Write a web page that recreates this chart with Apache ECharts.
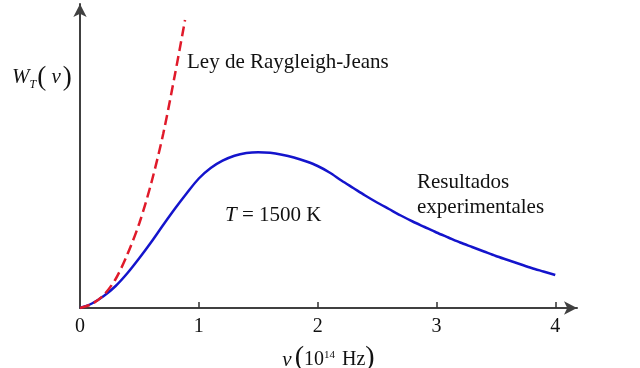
<!DOCTYPE html>
<html><head><meta charset="utf-8">
<script src="https://cdn.jsdelivr.net/npm/echarts@6/dist/echarts.min.js"></script>
<style>html,body{margin:0;padding:0;background:#fff}#c{width:640px;height:368px}</style>
</head><body><div id="c"></div>
<script>
// Frequency ν in 10^14 Hz, W_T(ν) in arbitrary units
var xTicks = [0, 1, 2, 3, 4];
var experimental = [
  [0,0],[0.1,4.5],[0.2,12],[0.3,22],[0.4,35],[0.5,50],[0.6,66],[0.7,83],[0.8,99.5],
  [0.9,115],[1.0,129.5],[1.1,140],[1.2,147.3],[1.3,152.3],[1.4,155],[1.5,155.8],[1.6,155.2],
  [1.7,153.3],[1.8,150.5],[1.9,146.7],[2.0,142],[2.1,135.5],[2.2,127.5],[2.3,120],[2.4,112.5],
  [2.5,105.5],[2.6,99],[2.7,92.5],[2.8,86.5],[2.9,81],[3.0,75.5],[3.1,70.5],[3.2,65.5],
  [3.3,61],[3.4,56.5],[3.5,52],[3.6,48],[3.7,44],[3.8,40],[3.9,36.5],[4.0,33]
];
var rayleighJeans = [
  [0,0],[0.1,4],[0.2,13],[0.3,29],[0.4,54],[0.5,85],[0.6,125],
  [0.7,174],[0.8,234],[0.884,288]
];
var serif = '"Liberation Serif","Times New Roman",serif';
var chart = echarts.init(document.getElementById('c'));
chart.setOption({
  backgroundColor: '#fff',
  animation: false,
  grid: {left: 80, right: 63, top: 4, bottom: 60, containLabel: false, outerBoundsMode: 'none'},
  xAxis: {
    type: 'value', min: 0, max: 4.183,
    axisLine: {show: true, onZero: false, symbol: ['none','arrow'], symbolSize: [10, 13],
      lineStyle: {color: '#404040', width: 2}},
    axisTick: {show: true, inside: true, length: 6, customValues: [1,2,3,4],
      lineStyle: {color: '#303030', width: 1.5}},
    axisLabel: {customValues: xTicks, color: '#111', fontFamily: serif, fontSize: 20, margin: 9},
    splitLine: {show: false},
    name: '{i|ν}{p|(}{n|10}{s|14}{n| Hz}{p|)}',
    nameLocation: 'middle', nameGap: 36,
    nameTextStyle: {
      color: '#111', fontFamily: serif, fontSize: 20,
      rich: {
        i: {fontFamily: serif, fontSize: 21, fontStyle: 'italic', color: '#111', verticalAlign: 'bottom', padding:[0,3,1,0]},
        p: {fontFamily: serif, fontSize: 28, color: '#111', verticalAlign: 'bottom'},
        n: {fontFamily: serif, fontSize: 20, color: '#111', verticalAlign: 'bottom', padding:[0,0,2,0]},
        s: {fontFamily: serif, fontSize: 11, color: '#111', verticalAlign: 'top', padding:[6,2,0,0]}
      }
    }
  },
  yAxis: {
    type: 'value', min: 0, max: 304,
    axisLine: {show: true, onZero: false, symbol: ['none','arrow'], symbolSize: [10, 13],
      lineStyle: {color: '#404040', width: 2}},
    axisTick: {show: false}, axisLabel: {show: false}, splitLine: {show: false}
  },
  series: [
    {type: 'line', data: experimental, smooth: 0.3, showSymbol: false,
      lineStyle: {color: '#1414cc', width: 2.5}, z: 3},
    {type: 'line', data: rayleighJeans, smooth: 0.3, showSymbol: false,
      lineStyle: {color: '#e01a2a', width: 2.5, type: [10, 5]}, z: 4}
  ],
  graphic: [
    {type: 'text', left: 187, top: 52, style: {text: 'Ley de Raygleigh-Jeans', font: '21px ' + serif, fill: '#111'}},
    {type: 'text', left: 417, top: 170, style: {text: 'Resultados\nexperimentales', font: '21px ' + serif, fill: '#111', lineHeight: 25}},
    {type: 'text', left: 225, top: 205, style: {
      text: '{i|T} = 1500 K', font: '21px ' + serif, fill: '#111',
      rich: {i: {fontStyle: 'italic', fontFamily: serif, fontSize: 21}}}},
    {type: 'text', left: 12, top: 64, style: {
      text: '{w|W}{t|T}{p|(}{v| ν}{p|)}', font: '20px ' + serif, fill: '#111',
      rich: {
        w: {fontStyle: 'italic', fontFamily: serif, fontSize: 21, verticalAlign: 'bottom', padding:[0,0,3,0]},
        t: {fontStyle: 'italic', fontFamily: serif, fontSize: 12, verticalAlign: 'bottom', padding:[0,1,0,0]},
        p: {fontFamily: serif, fontSize: 27, verticalAlign: 'bottom'},
        v: {fontStyle: 'italic', fontFamily: serif, fontSize: 21, verticalAlign: 'bottom', padding:[0,2,3,0]}
      }}}
  ]
});
</script></body></html>
